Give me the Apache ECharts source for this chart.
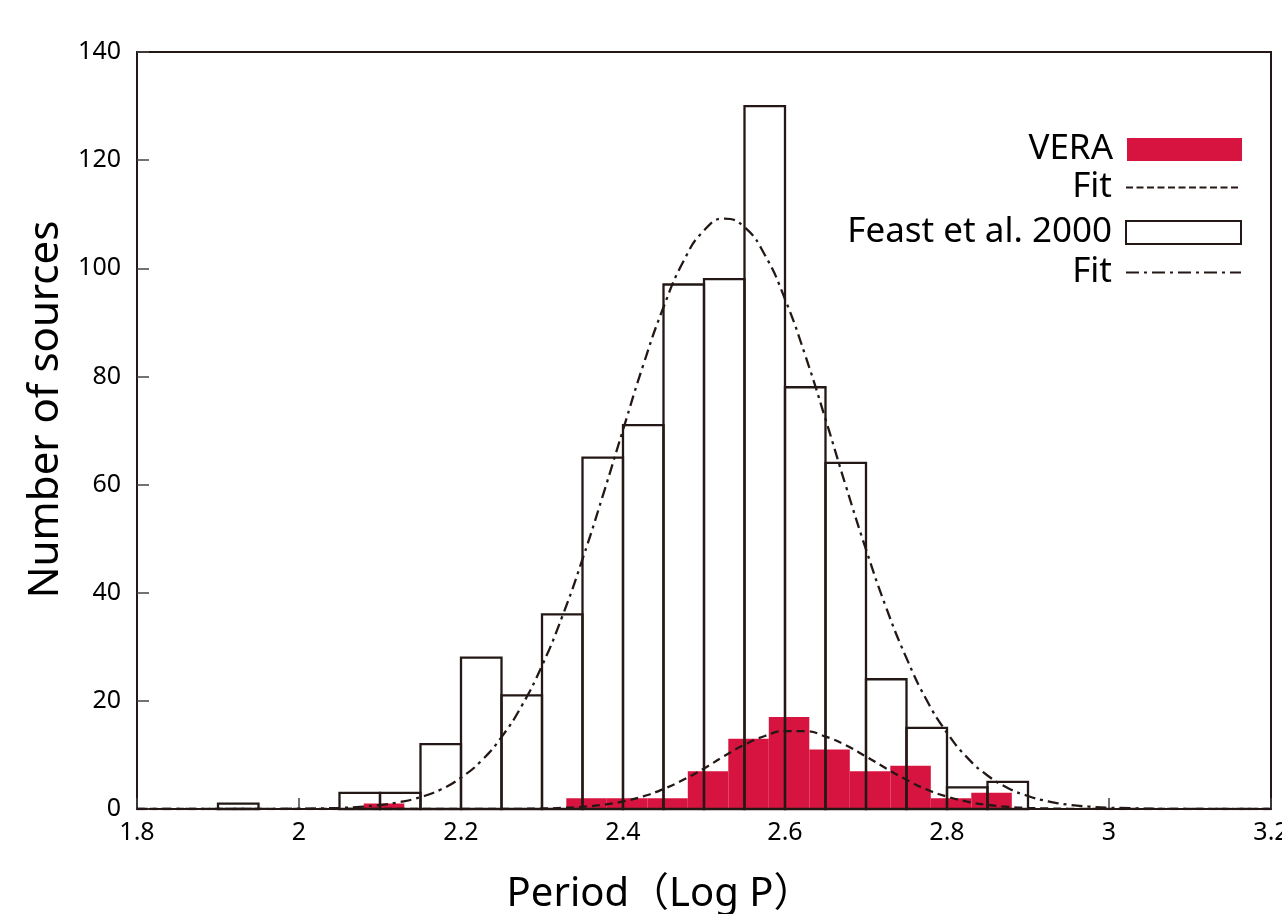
<!DOCTYPE html>
<html>
<head>
<meta charset="utf-8">
<script src="https://cdn.jsdelivr.net/npm/echarts@6/dist/echarts.min.js"></script>
<style>
html,body{margin:0;padding:0;background:#fff;}
#chart{width:1282px;height:914px;}
</style>
</head>
<body>
<div id="chart"></div>
<script>
// ---- data ----
const binWidth = 0.05;
const feastBinStart = [1.90, 2.05, 2.10, 2.15, 2.20, 2.25, 2.30, 2.35, 2.40, 2.45, 2.50, 2.55, 2.60, 2.65, 2.70, 2.75, 2.80, 2.85];
const feastCounts   = [1,    3,    3,    12,   28,   21,   36,   65,   71,   97,   98,   130,  78,   64,   24,   15,   4,    5];
const veraBinStart  = [2.08, 2.33, 2.38, 2.43, 2.48, 2.53, 2.58, 2.63, 2.68, 2.73, 2.78, 2.83];
const veraCounts    = [1,    2,    2,    2,    7,    13,   17,   11,   7,    8,    2,    3];
const fitX = [1.8, 1.9,
  2.0, 2.025, 2.05, 2.075, 2.1, 2.125, 2.15, 2.175, 2.2, 2.225, 2.25, 2.275, 2.3, 2.325, 2.35, 2.375, 2.4, 2.425,
  2.45, 2.475, 2.5, 2.525, 2.55, 2.575, 2.6, 2.625, 2.65, 2.675, 2.7, 2.725, 2.75, 2.775, 2.8, 2.825, 2.85, 2.875,
  2.9, 2.925, 2.95, 2.975, 3.0,
  3.1, 3.2];
const feastFit = [0, 0,
  0.05, 0.11, 0.21, 0.40, 0.73, 1.29, 2.2, 3.6, 5.8, 8.9, 13.3, 19.1, 26.5, 35.6, 46.2, 57.9, 70.1, 82.1,
  92.8, 101.4, 107.0, 109.2, 107.6, 102.5, 94.3, 83.9, 72.1, 59.8, 48.0, 37.2, 27.9, 20.1, 14.1, 9.5, 6.2, 3.9,
  2.4, 1.41, 0.8, 0.44, 0.23,
  0.01, 0];
const veraFit = [0, 0,
  0, 0, 0, 0, 0, 0, 0, 0, 0, 0.01, 0.02, 0.04, 0.09, 0.2, 0.41, 0.78, 1.4, 2.35,
  3.7, 5.45, 7.5, 9.8, 11.9, 13.5, 14.4, 14.4, 13.4, 11.8, 9.7, 7.5, 5.4, 3.6, 2.3, 1.36, 0.76, 0.40,
  0.19, 0.09, 0.04, 0.015, 0,
  0, 0];
const xTicks = {min: 1.8, max: 3.2, interval: 0.2};
const yTicks = {min: 0, max: 140, interval: 20};

// ---- styling ----
const RED = '#D7143F';
const INK = '#231815';
const FONT = "'Noto Sans', 'Noto Sans CJK JP', sans-serif";

const feastData = feastBinStart.map((s, i) => [s, s + binWidth, feastCounts[i]]);
const veraData = veraBinStart.map((s, i) => [s, s + binWidth, veraCounts[i]]);

function histItem(fill, stroke) {
  return function (params, api) {
    const p0 = api.coord([api.value(0), 0]);
    const p1 = api.coord([api.value(1), api.value(2)]);
    return {
      type: 'rect',
      shape: {x: p0[0], y: p1[1], width: p1[0] - p0[0], height: p0[1] - p1[1]},
      style: {fill: fill, stroke: stroke, lineWidth: stroke ? 2.3 : 0}
    };
  };
}

const chart = echarts.init(document.getElementById('chart'), null, {renderer: 'canvas'});
const legendBase = {
  orient: 'vertical', right: 40, align: 'right', padding: 0,
  itemWidth: 115, itemHeight: 23, selectedMode: false,
  textStyle: {fontSize: 35, color: '#000', fontFamily: FONT, padding: [0, 9, 0, 0]}
};
chart.setOption({
  backgroundColor: '#fff',
  animation: false,
  grid: {left: 137, right: 11, top: 52, bottom: 105, show: true, borderColor: INK, borderWidth: 2,
         containLabel: false, outerBoundsMode: 'none'},
  legend: [
    Object.assign({}, legendBase, {top: 132, data: [{name: 'VERA', icon: 'rect'}]}),
    Object.assign({}, legendBase, {top: 170, data: [{name: 'Fit', itemStyle: {opacity: 0}, lineStyle: {type: [7, 3.5], width: 2}}]}),
    Object.assign({}, legendBase, {top: 215, data: [{name: 'Feast et al. 2000', icon: 'rect', itemStyle: {color: '#fff', borderColor: INK, borderWidth: 2}}]}),
    Object.assign({}, legendBase, {top: 255, data: [{name: 'Feast Fit', itemStyle: {opacity: 0}, lineStyle: {type: [13, 5, 3, 5], width: 2}}], formatter: () => 'Fit'})
  ],
  xAxis: {
    type: 'value', min: xTicks.min, max: xTicks.max, interval: xTicks.interval,
    name: 'Period（Log P）', nameLocation: 'middle', nameGap: 66,
    nameTextStyle: {fontSize: 40, color: '#000', fontFamily: FONT, padding: [0, 88, 0, 0]},
    axisLine: {show: true, lineStyle: {color: INK, width: 2}},
    axisTick: {show: true, inside: true, length: 11, lineStyle: {color: '#444', width: 1.5}},
    axisLabel: {fontSize: 25, color: '#000', fontFamily: FONT, margin: 11, showMaxLabel: true, showMinLabel: true},
    splitLine: {show: false}
  },
  yAxis: {
    type: 'value', min: yTicks.min, max: yTicks.max, interval: yTicks.interval,
    name: 'Number of sources', nameLocation: 'middle', nameGap: 64,
    nameTextStyle: {fontSize: 42, color: '#000', fontFamily: FONT, padding: [0, 0, 0, 42]},
    axisLine: {show: true, lineStyle: {color: INK, width: 2}},
    axisTick: {show: true, inside: true, length: 12, lineStyle: {color: '#444', width: 1.5}},
    axisLabel: {fontSize: 25, color: '#000', fontFamily: FONT, margin: 16},
    splitLine: {show: false}
  },
  series: [
    {
      name: 'VERA', type: 'custom', z: 2,
      itemStyle: {color: RED},
      renderItem: histItem(RED, null),
      encode: {x: [0, 1], y: 2},
      data: veraData
    },
    {
      name: 'Feast et al. 2000', type: 'custom', z: 3,
      itemStyle: {color: '#fff', borderColor: INK, borderWidth: 2},
      renderItem: histItem('none', INK),
      encode: {x: [0, 1], y: 2},
      data: feastData
    },
    {
      name: 'Fit', type: 'line', z: 4, showSymbol: false, symbol: 'none',
      smooth: 0.5,
      lineStyle: {color: INK, width: 2.3, type: [8, 5]},
      itemStyle: {color: INK},
      data: fitX.map((x, i) => [x, veraFit[i]])
    },
    {
      name: 'Feast Fit', type: 'line', z: 4, showSymbol: false, symbol: 'none',
      smooth: 0.5,
      lineStyle: {color: INK, width: 2.3, type: [11, 5, 3, 5]},
      itemStyle: {color: INK},
      data: fitX.map((x, i) => [x, feastFit[i]])
    }
  ]
});
</script>
</body>
</html>
